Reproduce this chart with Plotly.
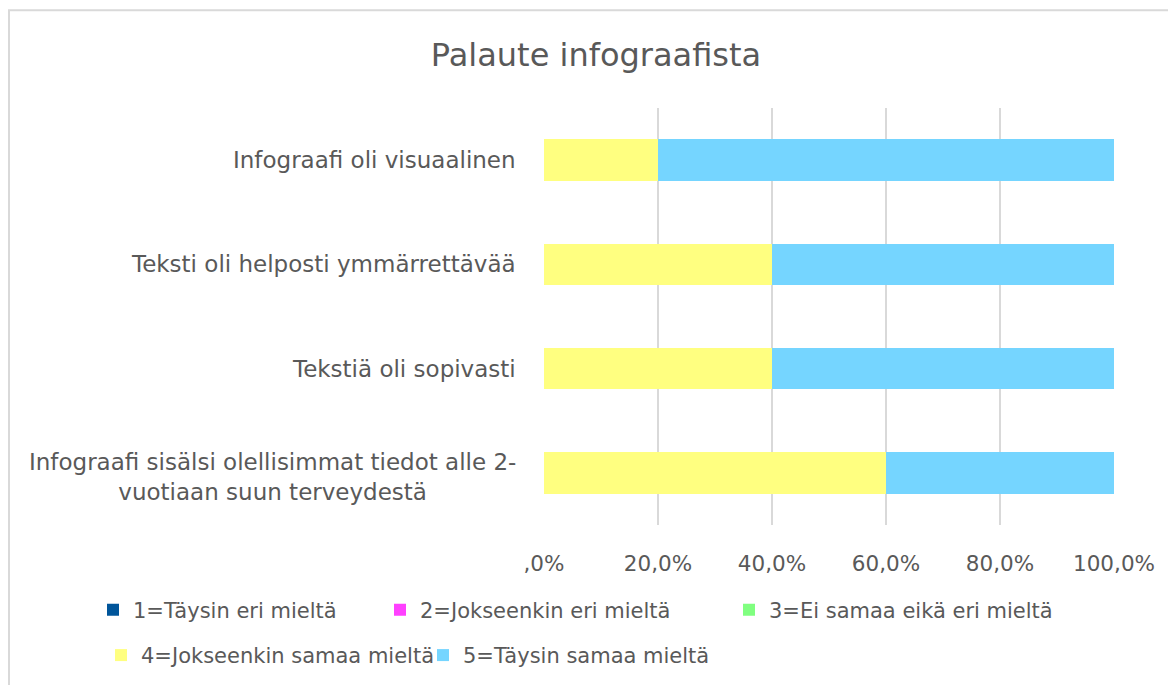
import plotly.graph_objects as go

categories = [
    "Infograafi oli visuaalinen",
    "Teksti oli helposti ymmärrettävää",
    "Tekstiä oli sopivasti",
    "Infograafi sisälsi olellisimmat tiedot alle 2-<br>vuotiaan suun terveydestä",
]
series_names = [
    "1=Täysin eri mieltä",
    "2=Jokseenkin eri mieltä",
    "3=Ei samaa eikä eri mieltä",
    "4=Jokseenkin samaa mieltä",
    "5=Täysin samaa mieltä",
]
s1 = [0, 0, 0, 0]
s2 = [0, 0, 0, 0]
s3 = [0, 0, 0, 0]
s4 = [20, 40, 40, 60]
s5 = [80, 60, 60, 40]
series_values = [s1, s2, s3, s4, s5]
colors = ["#00559A", "#FF40FF", "#80FF80", "#FFFF80", "#75D5FF"]
tick_vals = [0, 20, 40, 60, 80, 100]
tick_text = [",0%", "20,0%", "40,0%", "60,0%", "80,0%", "100,0%"]

# page offset (browser body margin)
OX, OY = 8, 8
W, H = 1176 - OX, 688 - OY
PL, PR, PT, PB = 544, 1114, 108, 530  # plot area in page pixels
L, R, T, B = PL - OX, W - (PR - OX), PT - OY, H - (PB - OY)
PW, PH = W - L - R, H - T - B


def xp(px):  # page px -> paper x
    return (px - OX - L) / PW


def yp(py):  # page py -> paper y
    return (H - B - (py - OY)) / PH


FONT = "DejaVu Sans"
TXT = "#595959"

fig = go.Figure()
# legend symbol left / row center in page pixels
leg_pos = [(107, 616), (394, 616), (743, 616), (115, 662), (437, 662)]
for i, (name, vals, col) in enumerate(zip(series_names, series_values, colors)):
    fig.add_trace(go.Bar(
        y=categories, x=vals, name=name, orientation="h",
        marker=dict(color=col, line=dict(width=0)),
        legend=f"legend{i+2}",
        hoverinfo="x+name",
    ))

layout_legends = {}
for i, (px, py) in enumerate(leg_pos):
    layout_legends[f"legend{i+2}"] = dict(
        x=xp(px - 14), xanchor="left", y=yp(py), yanchor="middle",
        orientation="h", font=dict(family=FONT, size=21, color=TXT),
        bgcolor="rgba(0,0,0,0)", borderwidth=0, itemclick=False,
    )

annotations = []
for i, c in enumerate(categories):
    annotations.append(dict(
        x=xp(518), xref="paper", y=c, yref="y", text=c, showarrow=False,
        xanchor="right", yanchor="middle", align="center",
        yshift=-4 if "<br>" in c else 0,
        font=dict(family=FONT, size=23, color=TXT),
    ))

shapes = [
    dict(type="line", xref="paper", yref="paper", x0=xp(7), x1=xp(1180), y0=yp(9), y1=yp(9),
         line=dict(color="#D9D9D9", width=2)),
    dict(type="line", xref="paper", yref="paper", x0=xp(9), x1=xp(9), y0=yp(9), y1=yp(692),
         line=dict(color="#D9D9D9", width=2)),
]

fig.update_layout(
    width=W, height=H,
    margin=dict(l=L, r=R, t=T, b=B),
    paper_bgcolor="white", plot_bgcolor="white",
    barmode="stack", bargap=0.6,
    showlegend=True,
    title=dict(text="Palaute infograafista", x=(596 - OX) / W, xref="container", xanchor="center",
               y=1 - (55 - OY) / H, yref="container", yanchor="middle",
               font=dict(family=FONT, size=32, color=TXT)),
    xaxis=dict(range=[0, 100], tickvals=tick_vals, ticktext=tick_text, showgrid=True,
               gridcolor="#D9D9D9", gridwidth=2, zeroline=False, showline=False, ticks="",
               ticklabelstandoff=23, tickfont=dict(family=FONT, size=21.5, color=TXT), fixedrange=True),
    yaxis=dict(categoryorder="array", categoryarray=categories, autorange="reversed",
               showticklabels=False, showgrid=False, zeroline=False, showline=False, ticks="",
               fixedrange=True),
    annotations=annotations,
    shapes=shapes,
    **layout_legends,
)
fig.write_html("out.html")
